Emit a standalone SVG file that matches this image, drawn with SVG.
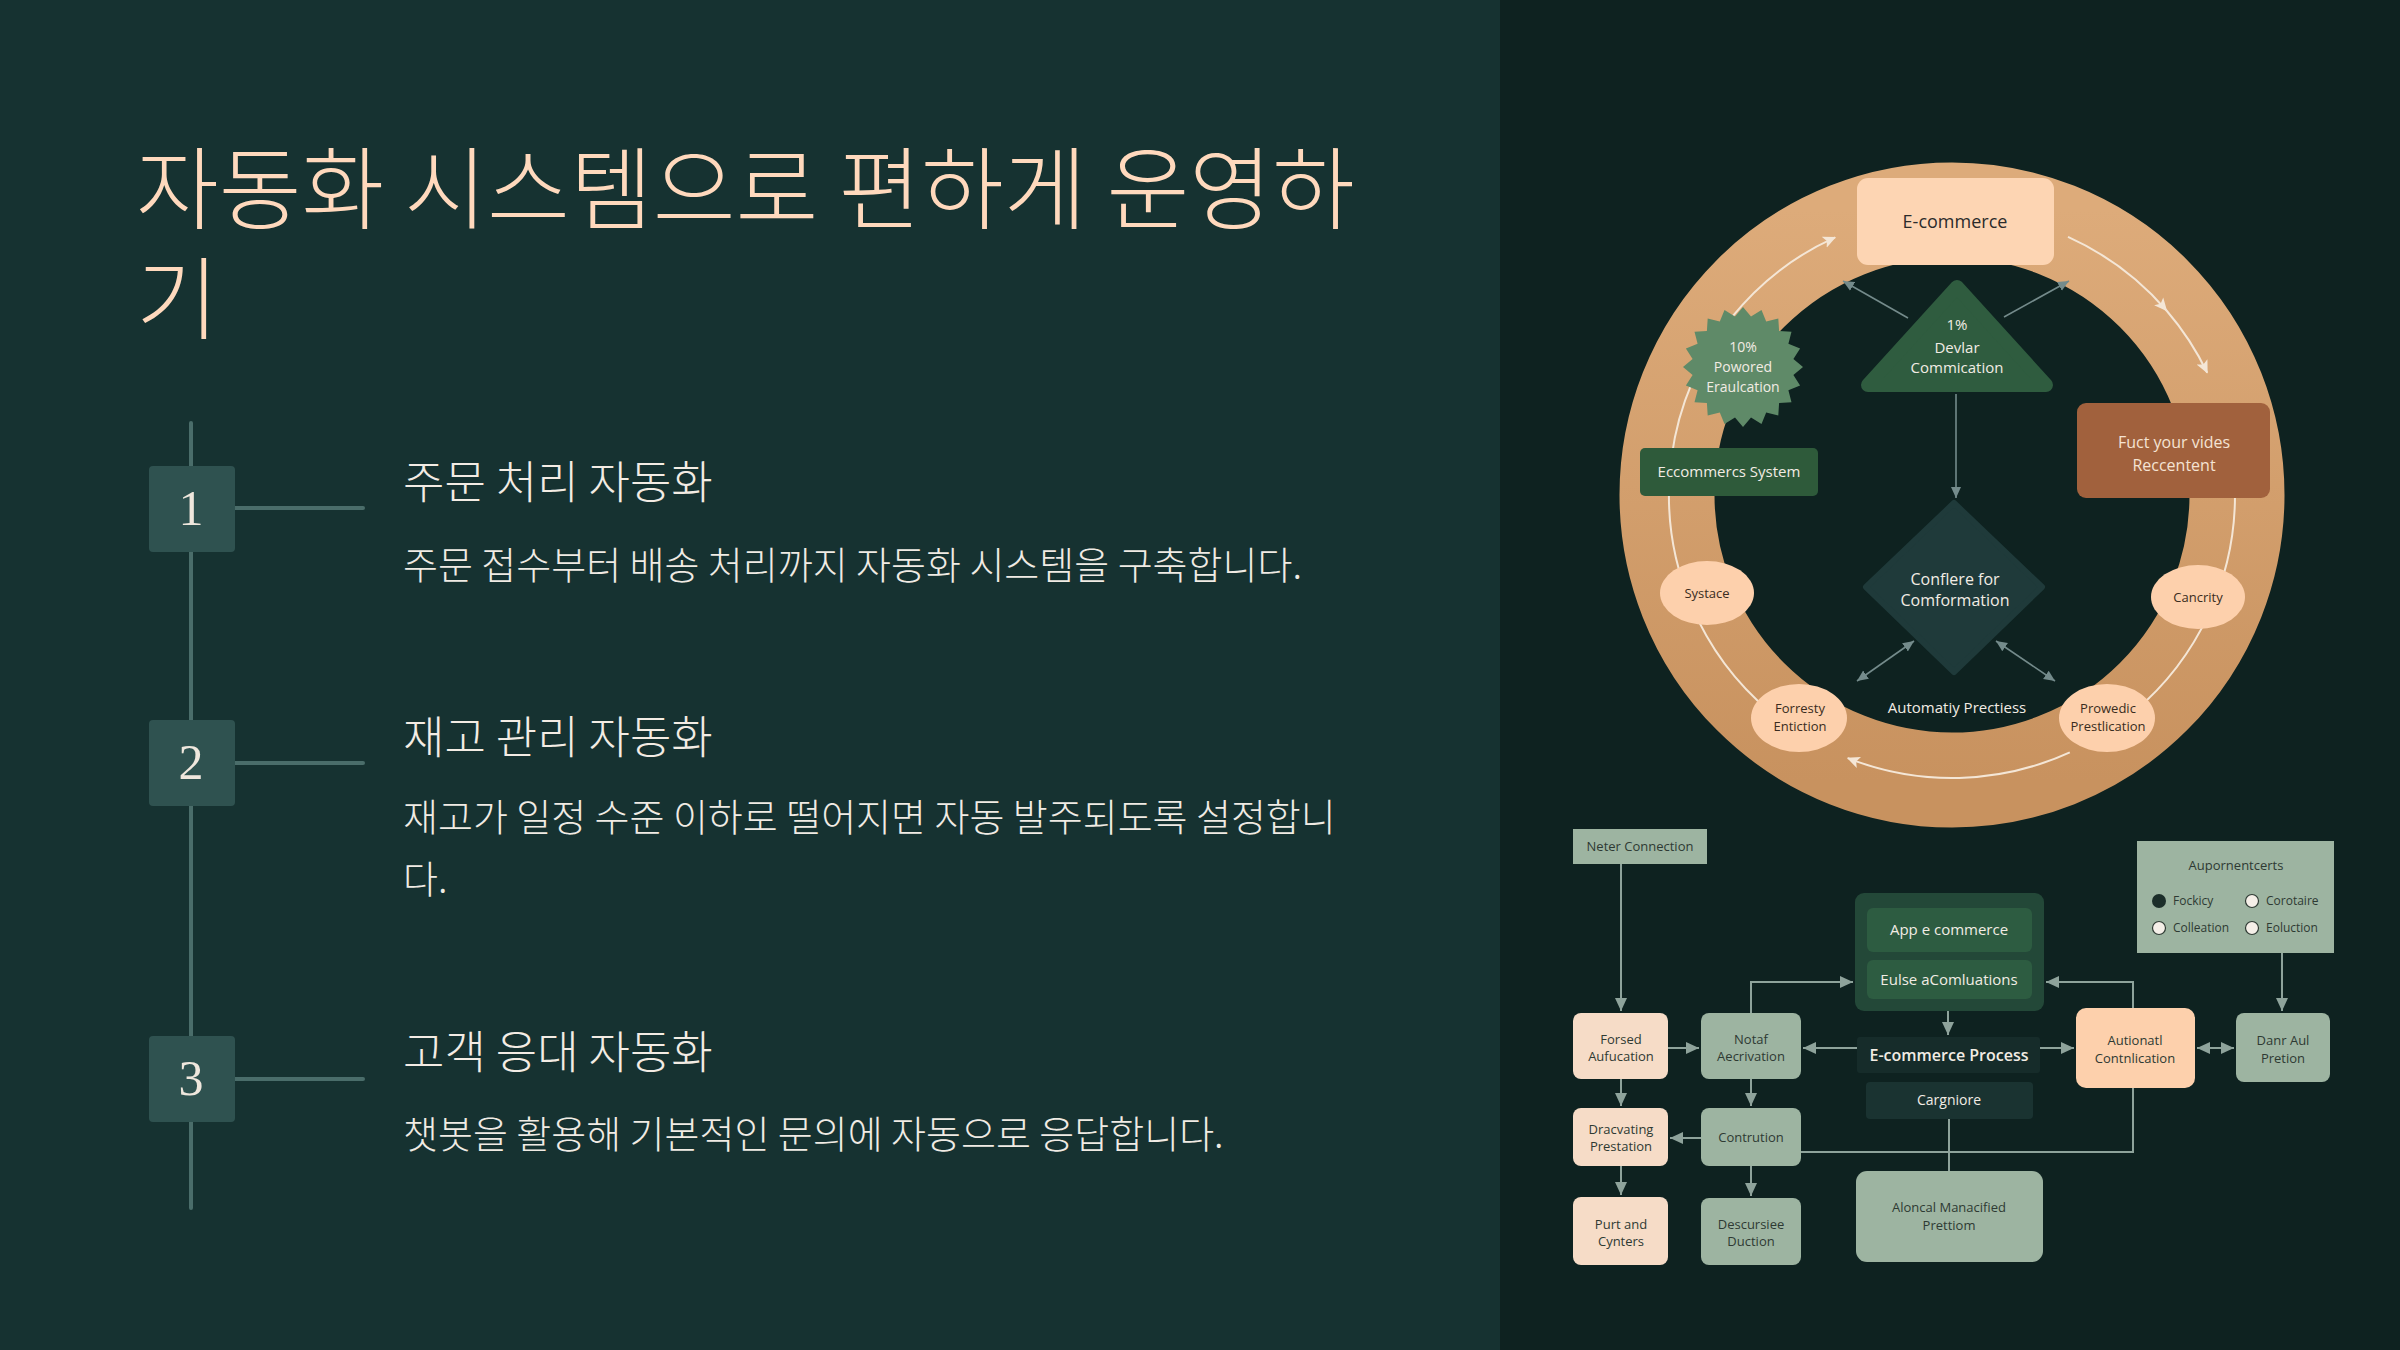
<svg xmlns="http://www.w3.org/2000/svg" width="2400" height="1350" viewBox="0 0 2400 1350">
<defs>
<style>
.ko{font-family:"Noto Sans CJK KR","Noto Sans",sans-serif;}
.title{font-size:90px;fill:#ffd9bd;font-weight:300;}
.head{font-size:45px;fill:#f3ece4;font-weight:300;}
.body{font-size:38px;fill:#f0ebe4;font-weight:300;}
.num{font-family:"Liberation Serif",serif;font-size:50px;fill:#efe7dd;text-anchor:middle;}
.tl{stroke:#4a6d6a;stroke-width:4;fill:none;stroke-linecap:round;}
.nbox{fill:#2f5250;}
.en{font-family:"Open Sans","Noto Sans",sans-serif;text-anchor:middle;}
.dk{fill:#2e3a33;}
.lt{fill:#f2ece4;}
.arc{stroke:#f4e6d6;stroke-width:2;fill:none;}
.ga{stroke:#748b8b;stroke-width:1.6;fill:none;}
.fc{stroke:#8ea39b;stroke-width:2;fill:none;}
.sage{fill:#9db4a1;}
.cream{fill:#f6dcc7;}
.peach{fill:#fdd0ac;}
</style>
<linearGradient id="ringG" x1="0" y1="0" x2="0" y2="1">
<stop offset="0" stop-color="#ddab7a"/>
<stop offset="1" stop-color="#c8925f"/>
</linearGradient>
<marker id="wa" markerUnits="userSpaceOnUse" markerWidth="14" markerHeight="14" refX="12" refY="7" orient="auto">
<path d="M0,1 L13,7 L0,13 L3,7 z" fill="#f4e6d6"/>
</marker>
<marker id="ga" markerUnits="userSpaceOnUse" markerWidth="12" markerHeight="12" refX="11" refY="6" orient="auto-start-reverse">
<path d="M0,1 L11,6 L0,11 z" fill="#748b8b"/>
</marker>
<marker id="fa" markerUnits="userSpaceOnUse" markerWidth="14" markerHeight="14" refX="13" refY="7" orient="auto-start-reverse">
<path d="M0,1 L13,7 L0,13 z" fill="#8ea39b"/>
</marker>
</defs>

<!-- backgrounds -->
<rect x="0" y="0" width="1500" height="1350" fill="#163231"/>
<rect x="1500" y="0" width="900" height="1350" fill="#0e2220"/>

<!-- left panel -->
<g id="title">
<text class="ko title"><tspan x="136" y="222">자동화 시스템으로 편하게 운영하</tspan><tspan x="136" y="332">기</tspan></text>
</g>

<g id="timeline">
<line class="tl" x1="191" y1="423" x2="191" y2="1208"/>
<line class="tl" x1="235" y1="508" x2="363" y2="508"/>
<line class="tl" x1="235" y1="763" x2="363" y2="763"/>
<line class="tl" x1="235" y1="1079" x2="363" y2="1079"/>
</g>

<g id="step1">
<rect class="nbox" x="149" y="466" width="86" height="86" rx="4"/>
<text class="num" x="191" y="525">1</text>
<text class="ko head" x="403" y="499">주문 처리 자동화</text>
<text class="ko body" x="403" y="579">주문 접수부터 배송 처리까지 자동화 시스템을 구축합니다.</text>
</g>
<g id="step2">
<rect class="nbox" x="149" y="720" width="86" height="86" rx="4"/>
<text class="num" x="191" y="779">2</text>
<text class="ko head" x="403" y="754">재고 관리 자동화</text>
<text class="ko body"><tspan x="403" y="831">재고가 일정 수준 이하로 떨어지면 자동 발주되도록 설정합니</tspan><tspan x="403" y="893">다.</tspan></text>
</g>
<g id="step3">
<rect class="nbox" x="149" y="1036" width="86" height="86" rx="4"/>
<text class="num" x="191" y="1095">3</text>
<text class="ko head" x="403" y="1069">고객 응대 자동화</text>
<text class="ko body" x="403" y="1148">챗봇을 활용해 기본적인 문의에 자동으로 응답합니다.</text>
</g>

<!-- ring -->
<g id="ring">
<circle cx="1952" cy="495" r="285" fill="none" stroke="url(#ringG)" stroke-width="95"/>
</g>

<g id="connectors">
<!-- ring arcs -->
<path class="arc" d="M1770.1,711.8 A283,283 0 0 1 1835.1,237.3" marker-end="url(#wa)"/>
<path class="arc" d="M2068.0,236.9 A283,283 0 0 1 2166.5,310.5" marker-end="url(#wa)"/>
<path class="arc" d="M2166.5,310.5 A283,283 0 0 1 2207.2,372.7" marker-end="url(#wa)"/>
<path class="arc" d="M2235,495 A283,283 0 0 1 2133.9,711.8"/>
<path class="arc" d="M2069.8,752.3 A283,283 0 0 1 1847.8,758.1" marker-end="url(#wa)"/>
<!-- inner arrows -->
<path class="ga" d="M1908,318 L1843,281" marker-end="url(#ga)"/>
<path class="ga" d="M2004,317 L2069,281" marker-end="url(#ga)"/>
<path class="ga" d="M1956,394 L1956,498" marker-end="url(#ga)"/>
<path class="ga" d="M1914,641 L1857,681" marker-start="url(#ga)" marker-end="url(#ga)"/>
<path class="ga" d="M1996,641 L2055,681" marker-start="url(#ga)" marker-end="url(#ga)"/>
<!-- flowchart -->
<path class="fc" d="M1621,864 V1011" marker-end="url(#fa)"/>
<path class="fc" d="M1668,1048 H1699" marker-end="url(#fa)"/>
<path class="fc" d="M1751,1013 V982 H1853" marker-end="url(#fa)"/>
<path class="fc" d="M1948,1011 V1035" marker-end="url(#fa)"/>
<path class="fc" d="M1857,1048 H1803" marker-end="url(#fa)"/>
<path class="fc" d="M2040,1048 H2074" marker-end="url(#fa)"/>
<path class="fc" d="M2133,1008 V982 H2046" marker-end="url(#fa)"/>
<path class="fc" d="M2197,1048 H2234" marker-start="url(#fa)" marker-end="url(#fa)"/>
<path class="fc" d="M2282,953 V1011" marker-end="url(#fa)"/>
<path class="fc" d="M1621,1079 V1106" marker-end="url(#fa)"/>
<path class="fc" d="M1751,1079 V1106" marker-end="url(#fa)"/>
<path class="fc" d="M1701,1138 H1670" marker-end="url(#fa)"/>
<path class="fc" d="M1621,1166 V1195" marker-end="url(#fa)"/>
<path class="fc" d="M1751,1166 V1196" marker-end="url(#fa)"/>
<path class="fc" d="M1949,1119 V1171"/>
<path class="fc" d="M2133,1088 V1152 H1801"/>
</g>

<!-- ring nodes -->
<g id="n-ecommerce">
<rect x="1857" y="178" width="197" height="87" rx="11" fill="#fdd5b3"/>
<text class="en" x="1955" y="228" font-size="18" fill="#2b2b2b">E-commerce</text>
</g>
<g id="n-starburst">
<polygon fill="#5f8a68" points="1803,367 1793.4,375 1800.1,385.5 1788.4,390.2 1791.5,402.3 1779.1,403.1 1778.3,415.5 1766.2,412.4 1761.5,424.1 1751,417.4 1743,427 1735,417.4 1724.5,424.1 1719.8,412.4 1707.7,415.5 1706.9,403.1 1694.5,402.3 1697.6,390.2 1685.9,385.5 1692.6,375 1683,367 1692.6,359 1685.9,348.5 1697.6,343.8 1694.5,331.7 1706.9,330.9 1707.7,318.5 1719.8,321.6 1724.5,309.9 1735,316.6 1743,307 1751,316.6 1761.5,309.9 1766.2,321.6 1778.3,318.5 1779.1,330.9 1791.5,331.7 1788.4,343.8 1800.1,348.5 1793.4,359"/>
<text class="en lt" font-size="14"><tspan x="1743" y="352">10%</tspan><tspan x="1743" y="372">Powored</tspan><tspan x="1743" y="392">Eraulcation</tspan></text>
</g>
<g id="n-triangle">
<path d="M1957,287 L2046,385 L1868,385 Z" fill="#2f5c3f" stroke="#2f5c3f" stroke-width="14" stroke-linejoin="round"/>
<text class="en lt" font-size="15"><tspan x="1957" y="330">1%</tspan><tspan x="1957" y="353">Devlar</tspan><tspan x="1957" y="373">Commication</tspan></text>
</g>
<g id="n-system">
<rect x="1640" y="448" width="178" height="48" rx="5" fill="#2e5a3a"/>
<text class="en lt" x="1729" y="477" font-size="15">Eccommercs System</text>
</g>
<g id="n-fuct">
<rect x="2077" y="403" width="193" height="95" rx="9" fill="#a1613d"/>
<text class="en" font-size="16" fill="#f5e3d3"><tspan x="2174" y="448">Fuct your vides</tspan><tspan x="2174" y="471">Reccentent</tspan></text>
</g>
<g id="n-diamond">
<path d="M1954,503 L2042,587 L1954,672 L1866,587 Z" fill="#1f3a3a" stroke="#1f3a3a" stroke-width="6" stroke-linejoin="round"/>
<text class="en lt" font-size="16"><tspan x="1955" y="585">Conflere for</tspan><tspan x="1955" y="606">Comformation</tspan></text>
</g>
<g id="n-systace">
<ellipse cx="1707" cy="593" rx="47" ry="32" class="peach"/>
<text class="en" x="1707" y="598" font-size="13" fill="#3a2c20">Systace</text>
</g>
<g id="n-cancrity">
<ellipse cx="2198" cy="597" rx="47" ry="32" class="peach"/>
<text class="en" x="2198" y="602" font-size="13" fill="#3a2c20">Cancrity</text>
</g>
<g id="n-forresty">
<ellipse cx="1799" cy="718" rx="48" ry="34" class="peach"/>
<text class="en" font-size="13" fill="#3a2c20"><tspan x="1800" y="713">Forresty</tspan><tspan x="1800" y="731">Entiction</tspan></text>
</g>
<g id="n-prowedic">
<ellipse cx="2107" cy="718" rx="48" ry="34" class="peach"/>
<text class="en" font-size="13" fill="#3a2c20"><tspan x="2108" y="713">Prowedic</tspan><tspan x="2108" y="731">Prestlication</tspan></text>
</g>
<g id="n-automatiy">
<text class="en lt" x="1957" y="713" font-size="15">Automatiy Prectiess</text>
</g>

<!-- flowchart nodes -->
<g id="f-neter">
<rect x="1573" y="829" width="134" height="35" class="sage"/>
<text class="en dk" x="1640" y="851" font-size="13">Neter Connection</text>
</g>
<g id="f-forsed">
<rect x="1573" y="1013" width="95" height="66" rx="8" class="cream"/>
<text class="en dk" font-size="13"><tspan x="1621" y="1044">Forsed</tspan><tspan x="1621" y="1061">Aufucation</tspan></text>
</g>
<g id="f-notaf">
<rect x="1701" y="1013" width="100" height="66" rx="8" class="sage"/>
<text class="en dk" font-size="13"><tspan x="1751" y="1044">Notaf</tspan><tspan x="1751" y="1061">Aecrivation</tspan></text>
</g>
<g id="f-app">
<rect x="1855" y="893" width="189" height="118" rx="9" fill="#234838"/>
<rect x="1867" y="908" width="165" height="44" rx="6" fill="#2d5c41"/>
<text class="en lt" x="1949" y="935" font-size="15">App e commerce</text>
<rect x="1867" y="960" width="165" height="39" rx="6" fill="#2d5c41"/>
<text class="en lt" x="1949" y="985" font-size="15">Eulse aComluations</text>
</g>
<g id="f-process">
<rect x="1857" y="1037" width="183" height="36" rx="3" fill="#162c2a"/>
<text class="en lt" x="1949" y="1061" font-size="16" font-weight="600">E-commerce Process</text>
</g>
<g id="f-cargniore">
<rect x="1866" y="1082" width="167" height="37" rx="4" fill="#1a3331"/>
<text class="en lt" x="1949" y="1105" font-size="14">Cargniore</text>
</g>
<g id="f-autionatl">
<rect x="2076" y="1008" width="119" height="80" rx="10" class="peach"/>
<text class="en dk" font-size="13"><tspan x="2135" y="1045">Autionatl</tspan><tspan x="2135" y="1063">Contnlication</tspan></text>
</g>
<g id="f-dann">
<rect x="2236" y="1013" width="94" height="69" rx="8" class="sage"/>
<text class="en dk" font-size="13"><tspan x="2283" y="1045">Danr Aul</tspan><tspan x="2283" y="1063">Pretion</tspan></text>
</g>
<g id="f-aupor">
<rect x="2137" y="841" width="197" height="112" class="sage"/>
<text class="en dk" x="2236" y="870" font-size="13">Aupornentcerts</text>
<circle cx="2159" cy="901" r="7" fill="#1c2e2a"/>
<text class="dk" x="2173" y="905" font-size="12" font-family="Open Sans, sans-serif">Fockicy</text>
<circle cx="2252" cy="901" r="6.5" fill="#f5efe8" stroke="#2e3a33" stroke-width="1.2"/>
<text class="dk" x="2266" y="905" font-size="12" font-family="Open Sans, sans-serif">Corotaire</text>
<circle cx="2159" cy="928" r="6.5" fill="#f5efe8" stroke="#2e3a33" stroke-width="1.2"/>
<text class="dk" x="2173" y="932" font-size="12" font-family="Open Sans, sans-serif">Colleation</text>
<circle cx="2252" cy="928" r="6.5" fill="#f5efe8" stroke="#2e3a33" stroke-width="1.2"/>
<text class="dk" x="2266" y="932" font-size="12" font-family="Open Sans, sans-serif">Eoluction</text>
</g>
<g id="f-dracvating">
<rect x="1573" y="1108" width="95" height="58" rx="8" class="cream"/>
<text class="en dk" font-size="13"><tspan x="1621" y="1134">Dracvating</tspan><tspan x="1621" y="1151">Prestation</tspan></text>
</g>
<g id="f-contrution">
<rect x="1701" y="1108" width="100" height="58" rx="8" class="sage"/>
<text class="en dk" x="1751" y="1142" font-size="13">Contrution</text>
</g>
<g id="f-purt">
<rect x="1573" y="1197" width="95" height="68" rx="8" class="cream"/>
<text class="en dk" font-size="13"><tspan x="1621" y="1229">Purt and</tspan><tspan x="1621" y="1246">Cynters</tspan></text>
</g>
<g id="f-descursiee">
<rect x="1701" y="1198" width="100" height="67" rx="8" class="sage"/>
<text class="en dk" font-size="13"><tspan x="1751" y="1229">Descursiee</tspan><tspan x="1751" y="1246">Duction</tspan></text>
</g>
<g id="f-aloncal">
<rect x="1856" y="1171" width="187" height="91" rx="11" class="sage"/>
<text class="en dk" font-size="13"><tspan x="1949" y="1212">Aloncal Manacified</tspan><tspan x="1949" y="1230">Prettiom</tspan></text>
</g>
</svg>
